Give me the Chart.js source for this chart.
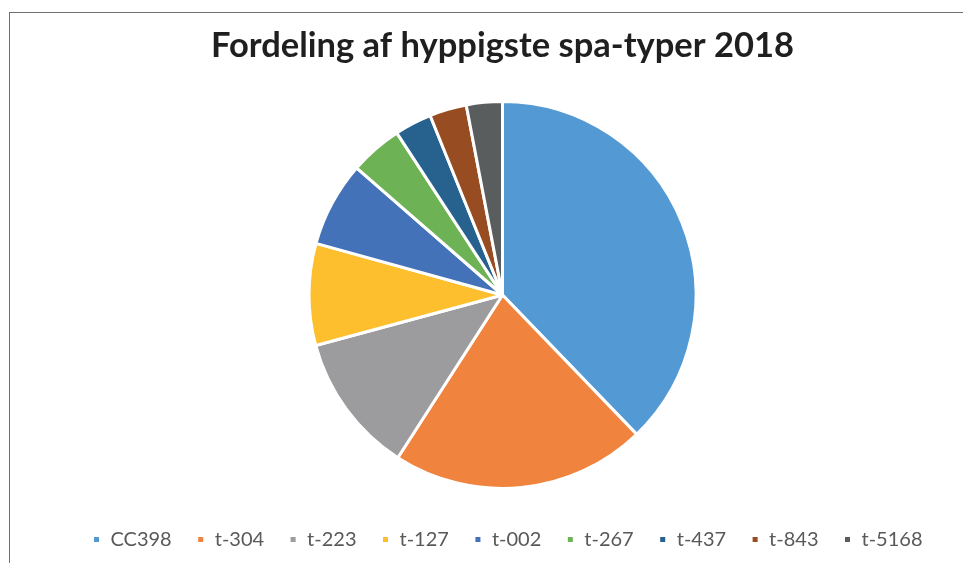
<!DOCTYPE html>
<html>
<head>
<meta charset="utf-8">
<script src="https://cdn.jsdelivr.net/npm/chart.js@4"></script>
<style>
  html, body { margin: 0; padding: 0; background: #fff; }
  #page {
    position: relative;
    width: 963px;
    height: 563px;
    overflow: hidden;
  }
  #frame {
    position: absolute;
    left: 9px;
    top: 12px;
    width: 985px;
    height: 560px;
    border-left: 1px solid #6f6f6f;
    border-top: 1px solid #6f6f6f;
  }
  #chart { display: block; }
</style>
</head>
<body>
<div id="page">
  <div id="frame">
    <canvas id="chart" width="985" height="550"></canvas>
  </div>
</div>
<script>
const chartTitle = 'Fordeling af hyppigste spa-typer 2018';
const spaTypes = ['CC398', 't-304', 't-223', 't-127', 't-002', 't-267', 't-437', 't-843', 't-5168'];
const shares = [37.8, 21.3, 11.7, 8.5, 7.1, 4.4, 3.1, 3.1, 3.0];
const sliceColors = ['#5399d4', '#f0843e', '#9c9c9e', '#fdbf2d', '#4472b8', '#6db356', '#27628f', '#984c22', '#5a5d5e'];

// nudge the legend row a little to the right of the pie's centre line
const legendNudge = {
    id: 'legendNudge',
    afterLayout(chart) {
        chart.legend.left += 5;
        chart.legend.right += 5;
    }
};

document.addEventListener('DOMContentLoaded', () => {
    const ctx = document.getElementById('chart').getContext('2d');

    new Chart(ctx, {
        type: 'pie',
        data: {
            labels: spaTypes,
            datasets: [{
                data: shares,
                backgroundColor: sliceColors,
                borderColor: '#ffffff',
                borderWidth: 3,
                radius: 193.5
            }]
        },
        options: {
            responsive: false,
            animation: false,
            events: [],
            layout: {
                padding: { top: 0, bottom: 3.5, left: 0, right: 0 }
            },
            plugins: {
                title: {
                    display: true,
                    text: chartTitle,
                    color: '#1f1f1f',
                    font: { family: 'Lato', size: 34.5, weight: 'bold', lineHeight: 1.2 },
                    padding: { top: 12, bottom: 19.1 }
                },
                legend: {
                    position: 'bottom',
                    labels: {
                        color: '#595959',
                        font: { family: 'Lato', size: 20 },
                        boxWidth: 8,
                        boxHeight: 8,
                        padding: 25
                    }
                },
                tooltip: { enabled: false }
            }
        },
        plugins: [legendNudge]
    });
});
</script>
</body>
</html>
